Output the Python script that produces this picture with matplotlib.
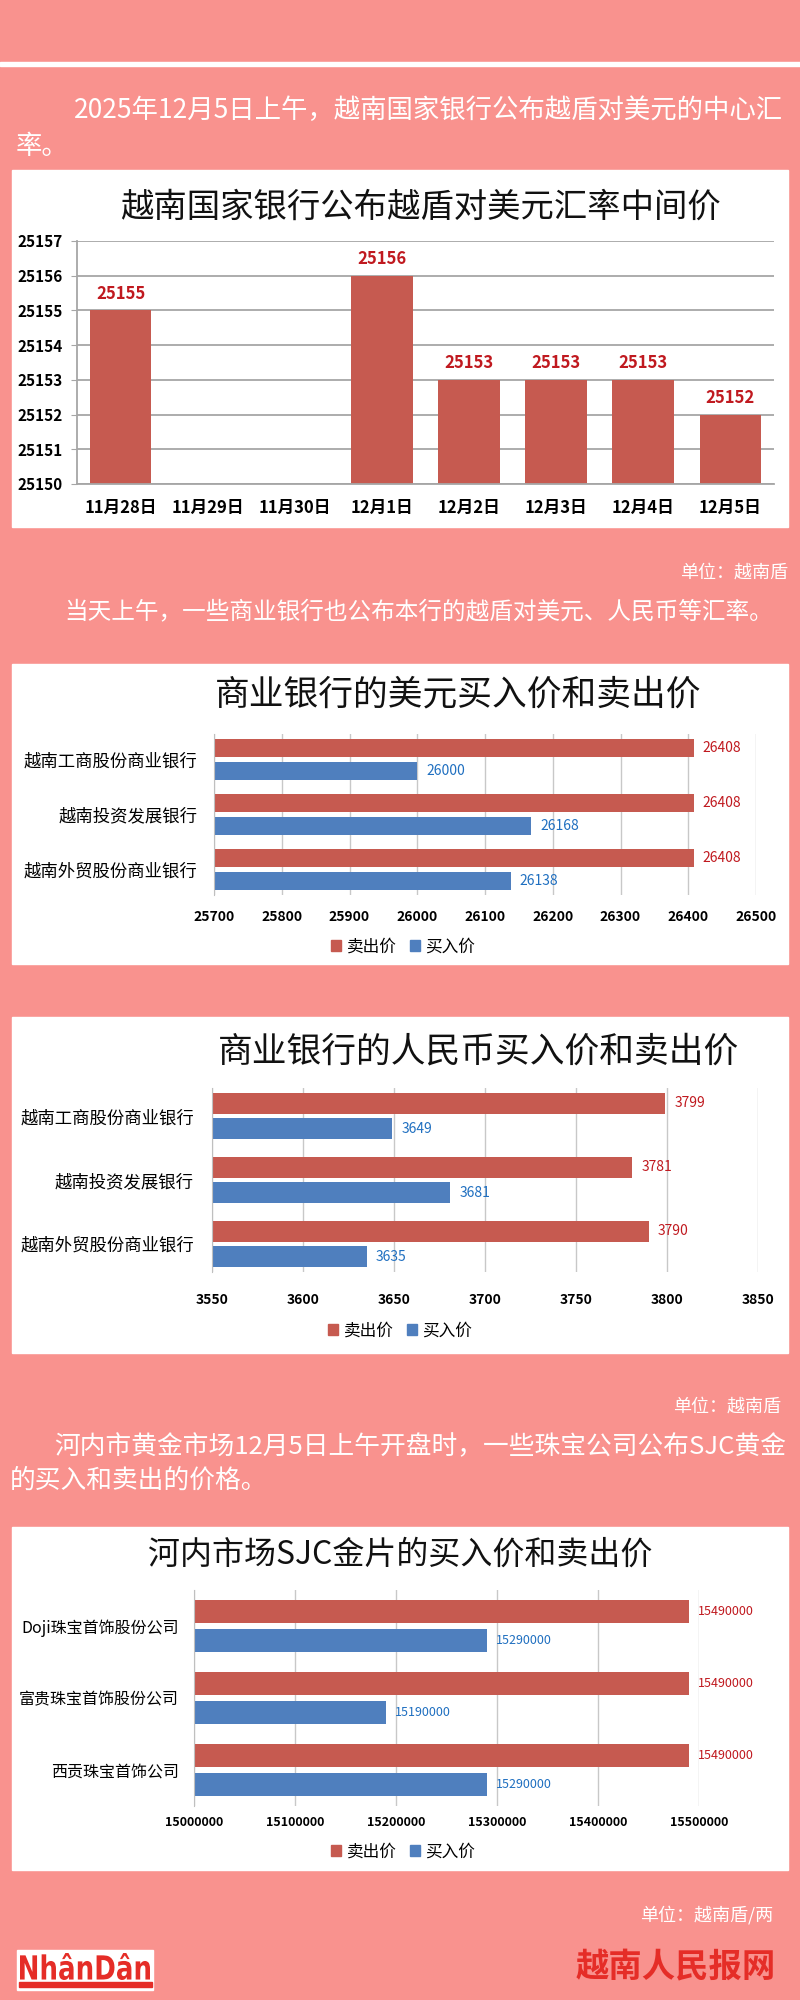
import numpy as np
import matplotlib
matplotlib.use("Agg")
import matplotlib.pyplot as plt
from matplotlib.patches import Rectangle, Patch, PathPatch
from matplotlib.textpath import TextPath
from matplotlib.font_manager import FontProperties
from matplotlib.transforms import Affine2D

plt.rcParams['font.family'] = ['Noto Sans CJK SC', 'DejaVu Sans']

# ---- data ----
dates = ['11月28日', '11月29日', '11月30日', '12月1日', '12月2日', '12月3日', '12月4日', '12月5日']
central_rate = [25155, None, None, 25156, 25153, 25153, 25153, 25152]

banks = ['越南工商股份商业银行', '越南投资发展银行', '越南外贸股份商业银行']
usd_sell = [26408, 26408, 26408]
usd_buy = [26000, 26168, 26138]
cny_sell = [3799, 3781, 3790]
cny_buy = [3649, 3681, 3635]

gold_shops = ['Doji珠宝首饰股份公司', '富贵珠宝首饰股份公司', '西贡珠宝首饰公司']
gold_sell = [15490000, 15490000, 15490000]
gold_buy = [15290000, 15190000, 15290000]

series_names = ['卖出价', '买入价']

BG = '#F9928E'
RED = '#C65A50'
BLUE = '#4F7FBE'
LRED = '#C0191F'
LBLUE = '#1F6FC0'
W, H = 800, 2000

fig = plt.figure(figsize=(8, 20), dpi=100, facecolor=BG)


def fx(x):
    return x / W


def fy(y):
    return 1 - y / H


def frac(x0, y0, x1, y1):
    return [x0 / W, 1 - y1 / H, (x1 - x0) / W, (y1 - y0) / H]


def panel(x0, y0, x1, y1, color='white'):
    fig.add_artist(Rectangle((fx(x0), fy(y1)), (x1 - x0) / W, (y1 - y0) / H,
                             transform=fig.transFigure, color=color, zorder=-1))


# white rule and panels
panel(0, 62, 800, 66)
panel(12, 170, 788, 527)
panel(12, 664, 788, 964)
panel(12, 1017, 788, 1353)
panel(12, 1527, 788, 1870)

# ---- intro texts ----
fig.text(fx(74), fy(110), '2025年12月5日上午，越南国家银行公布越盾对美元的中心汇',
         color='white', fontsize=19, va='center')
fig.text(fx(16), fy(147), '率。', color='white', fontsize=19, va='center')
fig.text(fx(788), fy(573), '单位：越南盾', color='white', fontsize=13, va='center', ha='right')
fig.text(fx(64), fy(612), '当天上午，一些商业银行也公布本行的越盾对美元、人民币等汇率。',
         color='white', fontsize=17, va='center')
fig.text(fx(781), fy(1407), '单位：越南盾', color='white', fontsize=13, va='center', ha='right')
fig.text(fx(54), fy(1447), '河内市黄金市场12月5日上午开盘时，一些珠宝公司公布SJC黄金',
         color='white', fontsize=18.5, va='center')
fig.text(fx(10), fy(1481), '的买入和卖出的价格。', color='white', fontsize=18.5, va='center')
fig.text(fx(773), fy(1915), '单位：越南盾/两', color='white', fontsize=13, va='center', ha='right')

# ---- chart 1: central rate ----
fig.text(fx(420), fy(207), '越南国家银行公布越盾对美元汇率中间价', fontsize=24,
         ha='center', va='center', color='#111111')
ax1 = fig.add_axes(frac(77, 241, 774, 484))
ax1.set_facecolor('none')
xs = [i for i, v in enumerate(central_rate) if v is not None]
vals = [v for v in central_rate if v is not None]
ax1.bar(xs, vals, width=0.71, color=RED, zorder=2)
for x, v in zip(xs, vals):
    ax1.annotate(str(v), (x, v), xytext=(0, 12), textcoords='offset points',
                 ha='center', va='center', fontsize=12, fontweight='bold', color=LRED)
ax1.set_xlim(-0.5, len(dates) - 0.5)
ax1.set_ylim(25150, 25157)
yt = list(range(25150, 25158))
ax1.set_yticks(yt, labels=[str(t) for t in yt])
ax1.set_xticks(range(len(dates)), labels=dates)
ax1.yaxis.grid(True, color='#A6A6A6', lw=1.3)
ax1.set_axisbelow(True)
for s in ['top', 'right']:
    ax1.spines[s].set_visible(False)
for s in ['left', 'bottom']:
    ax1.spines[s].set_color('#A6A6A6')
    ax1.spines[s].set_linewidth(1.3)
ax1.tick_params(axis='y', length=4, color='#A6A6A6', pad=6, labelsize=11)
ax1.tick_params(axis='x', length=0, pad=11, labelsize=12)
for lab in ax1.get_xticklabels() + ax1.get_yticklabels():
    lab.set_fontweight('bold')


# ---- horizontal bar charts ----
def hbar_chart(rect, cats, sell, buy, lo, hi, step, margin, off, h,
               cat_size, cat_pad, tick_size, tick_pad, lab_size):
    ax = fig.add_axes(rect)
    ax.set_facecolor('none')
    y = np.arange(len(cats))
    ax.barh(y - off, sell, height=h, color=RED, zorder=2)
    ax.barh(y + off, buy, height=h, color=BLUE, zorder=2)
    for yi, v in zip(y, sell):
        ax.annotate(str(v), (v, yi - off), xytext=(6.5, 0), textcoords='offset points',
                    ha='left', va='center', fontsize=lab_size, color=LRED)
    for yi, v in zip(y, buy):
        ax.annotate(str(v), (v, yi + off), xytext=(6.5, 0), textcoords='offset points',
                    ha='left', va='center', fontsize=lab_size, color=LBLUE)
    ax.set_xlim(lo, hi)
    ax.set_ylim(len(cats) - 1 + margin, -margin)
    xt = list(range(lo, hi + 1, step))
    ax.set_xticks(xt, labels=[str(t) for t in xt])
    ax.set_yticks(y, labels=cats)
    ax.xaxis.grid(True, color='#C8C8C8', lw=1)
    ax.set_axisbelow(True)
    for s in ['top', 'right', 'bottom']:
        ax.spines[s].set_visible(False)
    ax.spines['left'].set_color('#BFBFBF')
    ax.tick_params(axis='y', length=0, pad=cat_pad, labelsize=cat_size)
    ax.tick_params(axis='x', length=0, pad=tick_pad, labelsize=tick_size)
    for lab in ax.get_xticklabels():
        lab.set_fontweight('bold')
    return ax


def legend_at(x, y):
    handles = [Patch(color=RED, label=series_names[0]), Patch(color=BLUE, label=series_names[1])]
    fig.legend(handles=handles, loc='center', bbox_to_anchor=(fx(x), fy(y)), ncol=2,
               frameon=False, fontsize=12, handlelength=0.6, handleheight=0.6,
               handletextpad=0.3, columnspacing=0.8)


# chart 2: USD
fig.text(fx(458), fy(695), '商业银行的美元买入价和卖出价', fontsize=25,
         ha='center', va='center', color='#111111')
hbar_chart(frac(214, 734, 756, 895), banks, usd_sell, usd_buy, 25700, 26500, 100,
           0.46, 0.21, 0.33, 12.5, 12, 10, 11, 10)
legend_at(403, 947)

# chart 3: CNY
fig.text(fx(478), fy(1052), '商业银行的人民币买入价和卖出价', fontsize=25,
         ha='center', va='center', color='#111111')
hbar_chart(frac(212, 1088, 758, 1272), banks, cny_sell, cny_buy, 3550, 3850, 50,
           0.44, 0.2, 0.33, 12.5, 13, 10, 15, 10)
legend_at(400, 1331)

# chart 4: gold
fig.text(fx(400), fy(1555), '河内市场SJC金片的买入价和卖出价', fontsize=23,
         ha='center', va='center', color='#111111')
hbar_chart(frac(194, 1590, 699, 1806), gold_shops, gold_sell, gold_buy,
           15000000, 15500000, 100000, 0.5, 0.2, 0.32, 11.5, 11, 9, 7, 9)
legend_at(403, 1852)

# ---- footer ----
panel(17, 1950, 153, 1990)
panel(19, 1982, 152, 1987, color='#E52D27')
tp = TextPath((0, 0), 'NhânDân', size=100, prop=FontProperties(family='DejaVu Sans', weight='bold'))
bb = tp.get_extents()
tr = Affine2D().translate(-bb.x0, -bb.y0).scale(130 / bb.width, 27 / bb.height).translate(20, H - 1980)
fig.add_artist(PathPatch(tp, transform=tr, color='#E52D27', lw=0))
fig.text(fx(776), fy(1968), '越南人民报网', fontsize=24, fontweight='bold',
         ha='right', va='center', color='#E52D27')

fig.savefig('out.png', dpi=100, facecolor=BG)
